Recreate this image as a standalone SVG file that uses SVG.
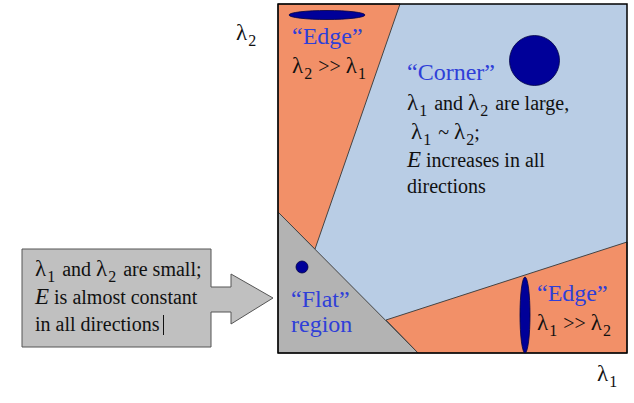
<svg xmlns="http://www.w3.org/2000/svg" width="634" height="403" viewBox="0 0 634 403">
<style>
.t{font-family:"Liberation Serif","Times New Roman",serif;font-size:20px;fill:#111}
.b{font-family:"Liberation Serif","Times New Roman",serif;font-size:24px;fill:#2f3fd8}
.l{font-size:23px}
.s{font-size:16px}
.bd{stroke:#444;stroke-width:1}
.reg-o{fill:#f29068}
.dot{fill:#000099;stroke:#000044;stroke-width:0.8}
</style>
<rect width="634" height="403" fill="#fff"/>
<g id="corner-region">
<rect x="278" y="4" width="349" height="349" fill="#b9cde5"/>
</g>
<g id="edge-top-region">
<polygon points="278,4 400,4 315,249 278,212" class="reg-o bd"/>
</g>
<g id="edge-bottom-region">
<polygon points="386,320 627,242 627,353 418,353" class="reg-o bd"/>
</g>
<g id="flat-region">
<polygon points="278,212 418,353 278,353" fill="#b3b3b3" class="bd"/>
</g>
<rect x="278" y="4" width="349" height="349" fill="none" stroke="#000" stroke-width="1.5"/>
<g id="axis-labels">
<text x="236" y="40" class="t"><tspan class="l">λ</tspan><tspan class="s" dx="1" dy="6">2</tspan></text>
<text x="597" y="381" class="t"><tspan class="l">λ</tspan><tspan class="s" dx="1" dy="6">1</tspan></text>
</g>
<g id="edge-top">
<ellipse cx="327" cy="15" rx="38" ry="4.5" class="dot"/>
<text x="292" y="44" class="b">“Edge”</text>
<text x="292" y="73" class="t"><tspan class="l">λ</tspan><tspan class="s" dx="1" dy="6">2</tspan><tspan dy="-6" dx="1"> &gt;&gt; </tspan><tspan class="l">λ</tspan><tspan class="s" dx="1" dy="6">1</tspan></text>
</g>
<g id="corner">
<circle cx="534.5" cy="60.5" r="25" class="dot"/>
<text x="407" y="80" class="b">“Corner”</text>
<text x="407" y="110" class="t"><tspan class="l">λ</tspan><tspan class="s" dx="1" dy="6">1</tspan><tspan dy="-6" dx="2"> and </tspan><tspan class="l">λ</tspan><tspan class="s" dx="1" dy="6">2</tspan><tspan dy="-6" dx="2"> are large,</tspan></text>
<text x="411" y="139" class="t"><tspan class="l">λ</tspan><tspan class="s" dx="1" dy="6">1</tspan><tspan dy="-6" dx="2"> ~ </tspan><tspan class="l">λ</tspan><tspan class="s" dx="1" dy="6">2</tspan><tspan dy="-6">;</tspan></text>
<text x="407" y="167" class="t"><tspan font-style="italic" class="l">E</tspan> increases in all</text>
<text x="407" y="193" class="t">directions</text>
</g>
<g id="flat">
<circle cx="302" cy="267" r="6" class="dot"/>
<text x="291" y="307" class="b">“Flat”</text>
<text x="291" y="332" class="b">region</text>
</g>
<g id="edge-bottom">
<ellipse cx="525" cy="315" rx="5" ry="38" class="dot"/>
<text x="537" y="301" class="b">“Edge”</text>
<text x="537" y="330" class="t"><tspan class="l">λ</tspan><tspan class="s" dx="1" dy="6">1</tspan><tspan dy="-6" dx="1"> &gt;&gt; </tspan><tspan class="l">λ</tspan><tspan class="s" dx="1" dy="6">2</tspan></text>
</g>
<g id="callout">
<path d="M22,249 H211 V287 H231 V274 L273,298 L231,324 V312 H211 V347 H22 Z" fill="#c0c0c0" stroke="#555" stroke-width="1"/>
<text x="35" y="276" class="t"><tspan class="l">λ</tspan><tspan class="s" dx="1" dy="6">1</tspan><tspan dy="-6" dx="2"> and </tspan><tspan class="l">λ</tspan><tspan class="s" dx="1" dy="6">2</tspan><tspan dy="-6" dx="2"> are small;</tspan></text>
<text x="35" y="304" class="t"><tspan font-style="italic" class="l">E</tspan> is almost constant</text>
<text x="35" y="331" class="t">in all directions</text>
<line x1="163.5" y1="315" x2="163.5" y2="335" stroke="#111" stroke-width="1"/>
</g>
<g id="connectors"></g>
</svg>
